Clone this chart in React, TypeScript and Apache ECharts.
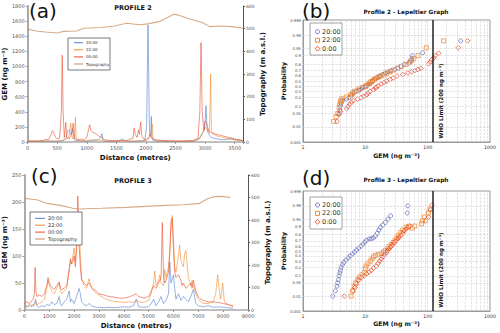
import React, { useEffect, useRef } from "react";
import * as echarts from "echarts";

const FONT = "DejaVu Sans";
const C_BLUE = "#4f7fd0";
const C_ORANGE = "#f28a2e";
const C_RED = "#e94b2e";
const C_TOPO = "#c98d5e";
const S_BLUE = "#5a64b8";
const S_ORANGE = "#f07f22";
const S_RED = "#e8452a";

// ---------- Panel (a): Profile 2 ----------
const blueA = [[0,5],[100,5],[200,8],[300,10],[400,8],[500,10],[600,15],[650,60],[680,150],[700,160],[720,120],[740,100],[760,175],[780,60],[800,20],[900,15],[1000,10],[1100,20],[1200,30],[1240,60],[1254,110],[1270,30],[1300,10],[1400,10],[1500,15],[1550,20],[1600,40],[1620,15],[1700,10],[1800,10],[1900,15],[1980,20],[2010,200],[2025,1000],[2034,1549],[2045,1000],[2055,300],[2065,80],[2080,100],[2090,339],[2100,60],[2120,20],[2200,10],[2400,5],[2600,8],[2800,10],[2900,40],[2950,120],[2980,150],[3000,280],[3015,480],[3030,200],[3050,120],[3080,80],[3100,60],[3200,40],[3300,30],[3400,40],[3450,50],[3500,30],[3600,20],[3640,15]];
const orangeA = [[0,10],[100,10],[200,12],[300,15],[400,15],[500,12],[560,20],[620,30],[660,40],[700,80],[730,250],[745,100],[760,40],[790,50],[808,326],[820,50],[850,20],[900,15],[1000,20],[1100,30],[1200,25],[1300,15],[1400,12],[1500,10],[1600,15],[1700,10],[1800,12],[1900,15],[2000,20],[2050,40],[2080,80],[2107,240],[2120,40],[2200,15],[2400,12],[2600,10],[2800,15],[2900,40],[2950,100],[3000,200],[3040,150],[3070,120],[3085,500],[3093,902],[3105,150],[3150,100],[3200,80],[3300,60],[3400,40],[3500,30],[3600,20],[3640,15]];
const redA = [[0,15],[100,15],[200,15],[280,20],[300,40],[350,30],[400,100],[418,150],[440,130],[470,60],[500,40],[540,50],[570,400],[585,1150],[600,400],[620,60],[646,260],[660,60],[700,40],[750,120],[770,250],[790,60],[850,30],[900,40],[950,30],[1000,60],[1048,229],[1070,150],[1100,130],[1150,110],[1200,80],[1250,60],[1300,30],[1400,20],[1500,15],[1600,20],[1700,25],[1780,50],[1800,185],[1820,100],[1850,60],[1872,160],[1890,100],[1911,268],[1930,80],[1960,40],[2000,30],[2050,60],[2068,100],[2090,60],[2150,30],[2300,20],[2500,15],[2700,15],[2800,20],[2880,50],[2910,400],[2931,1316],[2950,400],[2980,150],[3000,280],[3020,260],[3060,150],[3100,120],[3200,100],[3300,80],[3400,60],[3500,40],[3600,25],[3640,20]];
const topoA = [[0,498],[140,490],[300,485],[500,481],[610,488],[830,490],[950,502],[1250,505],[1470,512],[1670,524],[1890,517],[2030,521],[2220,531],[2390,553],[2470,564],[2530,561],[2700,546],[2950,527],[3080,509],[3280,512],[3450,509],[3640,502]];

// ---------- Panel (c): Profile 3 ----------
const blueC = [[0,8],[100,5],[200,10],[300,6],[400,12],[450,20],[500,8],[600,5],[700,8],[800,6],[900,10],[1000,8],[1100,15],[1200,10],[1300,12],[1400,25],[1450,10],[1500,8],[1600,15],[1700,20],[1800,35],[1850,15],[1900,20],[2000,12],[2100,25],[2200,40],[2250,30],[2300,15],[2400,10],[2500,8],[2600,12],[2700,8],[2800,6],[2900,5],[3000,5],[3200,4],[3400,5],[3600,4],[3800,5],[4000,6],[4200,5],[4400,8],[4500,20],[4600,6],[4800,5],[5000,6],[5100,12],[5200,20],[5300,8],[5400,15],[5500,25],[5600,12],[5700,18],[5800,30],[5850,89],[5900,50],[6000,65],[6050,40],[6100,20],[6200,30],[6300,18],[6400,25],[6500,20],[6600,15],[6700,25],[6800,38],[6900,12],[7000,8],[7200,6],[7400,8],[7600,5],[7800,6],[8000,5],[8200,4],[8400,3]];
const orangeC = [[0,10],[100,8],[200,6],[300,10],[400,8],[450,15],[500,10],[600,12],[700,15],[800,20],[900,40],[950,55],[1000,45],[1100,35],[1200,30],[1300,40],[1400,50],[1450,35],[1500,30],[1600,35],[1700,40],[1800,70],[1850,90],[1900,85],[1950,100],[2000,115],[2050,90],[2100,110],[2150,140],[2200,165],[2250,100],[2300,60],[2400,45],[2500,40],[2600,58],[2700,40],[2800,35],[2900,30],[3000,28],[3200,22],[3400,18],[3600,16],[3800,15],[4000,14],[4200,15],[4400,14],[4500,18],[4600,15],[4800,14],[5000,18],[5100,30],[5200,50],[5250,72],[5300,45],[5400,55],[5450,65],[5500,50],[5600,45],[5650,75],[5700,60],[5800,80],[5850,100],[5900,150],[5950,175],[6000,130],[6050,80],[6100,70],[6200,100],[6250,120],[6300,90],[6400,80],[6450,105],[6500,110],[6550,85],[6600,60],[6700,45],[6750,55],[6800,45],[6900,30],[7000,20],[7100,15],[7200,12],[7400,12],[7600,15],[7700,30],[7780,65],[7850,35],[7900,20],[7980,50],[8050,15],[8200,10],[8400,8]];
const redC = [[0,12],[100,15],[200,12],[300,18],[350,20],[400,30],[430,79],[460,35],[500,25],[600,28],[700,25],[800,30],[900,45],[950,60],[1000,50],[1100,42],[1200,38],[1300,45],[1400,52],[1450,40],[1500,38],[1600,40],[1700,45],[1750,60],[1800,75],[1850,95],[1900,85],[1950,90],[2000,100],[2050,80],[2100,120],[2150,211],[2200,120],[2250,80],[2300,55],[2400,50],[2500,45],[2600,50],[2700,42],[2800,38],[2900,35],[3000,30],[3200,28],[3400,25],[3600,24],[3800,22],[4000,22],[4200,24],[4400,28],[4500,30],[4600,25],[4800,22],[5000,25],[5100,35],[5200,45],[5300,40],[5400,50],[5500,60],[5550,162],[5600,60],[5650,50],[5700,55],[5800,70],[5850,110],[5900,165],[5950,170],[6000,110],[6050,70],[6100,60],[6200,65],[6300,55],[6350,45],[6400,50],[6500,40],[6600,45],[6700,50],[6750,40],[6800,55],[6900,35],[7000,25],[7100,20],[7200,18],[7400,15],[7600,15],[7800,14],[8000,12],[8200,10],[8400,6]];
const topoC = [[0,496],[300,492],[500,490],[900,474],[1500,464],[1950,452],[2200,449],[3100,452],[4100,456],[5500,464],[6400,468],[7050,474],[7350,493],[7650,504],[7950,505],[8300,500]];

// ---------- Panel (b): Lepeltier, profile 2 ([GEM, probability]) ----------
const blueB = [[3.8,0.05],[3.9,0.07],[4.0,0.1],[4.1,0.13],[4.3,0.16],[5.0,0.18],[5.5,0.2],[6.0,0.23],[6.3,0.26],[6.6,0.28],[7.2,0.3],[8.0,0.32],[8.5,0.34],[9.0,0.36],[9.5,0.38],[10.5,0.4],[11,0.42],[12,0.45],[12.5,0.48],[13,0.5],[14,0.53],[15,0.56],[16,0.58],[17,0.6],[19,0.63],[21,0.66],[23,0.68],[26,0.7],[30,0.72],[33,0.74],[37,0.77],[42,0.8],[50,0.82],[53,0.85],[55,0.87],[57,0.9],[83,0.924],[338,0.979]];
const orangeB = [[3.1,0.02],[3.4,0.035],[3.6,0.05],[3.8,0.09],[3.9,0.12],[4.0,0.15],[4.1,0.17],[4.2,0.19],[5.0,0.21],[5.8,0.24],[6.2,0.27],[6.6,0.3],[7.5,0.32],[8.0,0.35],[8.8,0.37],[10,0.39],[10.5,0.42],[11.5,0.45],[12,0.48],[13,0.5],[14,0.53],[15,0.56],[16.5,0.58],[18,0.6],[20,0.62],[22,0.65],[25,0.68],[28,0.71],[33,0.74],[38,0.77],[45,0.8],[52,0.83],[55,0.85],[60,0.87],[70,0.9],[95,0.954],[180,0.979]];
const redB = [[3.5,0.02],[3.8,0.045],[4.0,0.06],[5.0,0.08],[5.3,0.1],[5.6,0.12],[6.0,0.14],[6.4,0.16],[7.5,0.18],[8.5,0.2],[9.5,0.22],[10.5,0.24],[11,0.27],[12,0.3],[13.5,0.33],[14.5,0.36],[15,0.38],[16,0.4],[18,0.44],[20,0.47],[22,0.5],[25,0.53],[28,0.56],[32,0.6],[40,0.63],[48,0.66],[55,0.68],[62,0.7],[70,0.72],[78,0.74],[104,0.81],[110,0.83],[117,0.86],[125,0.88],[132,0.9],[150,0.92],[310,0.954],[437,0.979]];

// ---------- Panel (d): Lepeltier, profile 3 ----------
const blueD = [[3.0,0.01],[3.3,0.02],[3.5,0.035],[3.6,0.05],[3.7,0.07],[3.8,0.1],[3.9,0.13],[4.0,0.16],[4.1,0.2],[4.3,0.24],[4.5,0.28],[4.9,0.32],[5.3,0.36],[5.7,0.4],[6.2,0.44],[6.7,0.48],[7.2,0.52],[7.8,0.56],[8.5,0.6],[9.2,0.64],[9.8,0.68],[10.5,0.71],[11.5,0.73],[12.5,0.74],[13.5,0.75],[14.5,0.78],[15.5,0.82],[16.5,0.86],[17.5,0.89],[19,0.91],[21,0.93],[23,0.95],[25.5,0.965],[47,0.975],[48,0.99]];
const orangeD = [[5.9,0.01],[6.3,0.02],[6.6,0.035],[7.0,0.05],[7.5,0.07],[8.0,0.09],[8.8,0.11],[9.6,0.13],[10.0,0.18],[10.3,0.22],[11,0.26],[12,0.3],[12.8,0.34],[13.5,0.38],[14.5,0.41],[16,0.43],[18,0.45],[19.5,0.48],[21,0.51],[22.5,0.55],[24,0.59],[26,0.63],[28,0.67],[30,0.71],[32,0.75],[34,0.79],[37,0.83],[40,0.86],[45,0.89],[50,0.9],[57,0.88],[62,0.9],[80,0.92],[83,0.94],[88,0.96],[103,0.975],[110,0.985]];
const redD = [[4.6,0.01],[6.3,0.02],[6.8,0.03],[7.2,0.045],[7.8,0.065],[8.5,0.085],[9.6,0.1],[10.5,0.12],[11.5,0.14],[12.5,0.16],[13.5,0.19],[15,0.22],[16,0.26],[17,0.3],[18,0.34],[19,0.38],[20,0.42],[21.5,0.46],[22.6,0.5],[24,0.54],[25.5,0.58],[27,0.62],[29,0.66],[31,0.7],[33,0.73],[35,0.76],[37.5,0.79],[40,0.82],[42,0.85],[45,0.87],[48,0.89],[52,0.9],[92,0.94],[103,0.96],[110,0.983],[117,0.991]];

const probTicks = [0.001, 0.01, 0.05, 0.1, 0.2, 0.3, 0.4, 0.5, 0.6, 0.7, 0.8, 0.9, 0.95, 0.99, 0.999];
const WHO_LIMIT = 120;

// inverse normal CDF (normal-probability scale)
function probit(p: number): number {
  const a = [-3.969683028665376e1, 2.209460984245205e2, -2.759285104469687e2, 1.38357751867269e2, -3.066479806614716e1, 2.506628277459239];
  const b = [-5.447609879822406e1, 1.615858368580409e2, -1.556989798598866e2, 6.680131188771972e1, -1.328068155288572e1];
  const c = [-7.784894002430293e-3, -3.223964580411365e-1, -2.400758277161838, -2.549671010115818, 4.374664141464968, 2.938163982698783];
  const d = [7.784695709041462e-3, 3.224671290700398e-1, 2.445134137142996, 3.754408661907416];
  const plow = 0.02425;
  if (p < plow) {
    const q = Math.sqrt(-2 * Math.log(p));
    return (((((c[0] * q + c[1]) * q + c[2]) * q + c[3]) * q + c[4]) * q + c[5]) / ((((d[0] * q + d[1]) * q + d[2]) * q + d[3]) * q + 1);
  }
  if (p <= 1 - plow) {
    const q = p - 0.5;
    const r = q * q;
    return ((((((a[0] * r + a[1]) * r + a[2]) * r + a[3]) * r + a[4]) * r + a[5]) * q) / (((((b[0] * r + b[1]) * r + b[2]) * r + b[3]) * r + b[4]) * r + 1);
  }
  const q = Math.sqrt(-2 * Math.log(1 - p));
  return -(((((c[0] * q + c[1]) * q + c[2]) * q + c[3]) * q + c[4]) * q + c[5]) / ((((d[0] * q + d[1]) * q + d[2]) * q + d[3]) * q + 1);
}

const ZMAX = probit(0.999);
const probLabel = (v: number) => {
  let best = probTicks[0];
  for (const t of probTicks) if (Math.abs(probit(t) - v) < Math.abs(probit(best) - v)) best = t;
  return String(best);
};
const plain = (v: number) => String(v);

const minorX: number[] = [];
for (const dec of [1, 10, 100]) for (let k = 2; k <= 10; k++) if (dec * k < 1000) minorX.push(dec * k);
const gridMarks = [
  ...minorX.map((x) => ({ xAxis: x })),
  ...probTicks.slice(1, -1).map((p) => ({ yAxis: probit(p) })),
  { xAxis: WHO_LIMIT, lineStyle: { type: "solid", color: "#222", width: 1.5 } },
];

const grayAxis = { onZero: false, lineStyle: { color: "#aaa", width: 1.5 } };
const tickLbl = { fontSize: 5, color: "#555", margin: 3, fontFamily: FONT, formatter: plain };
const nameStyle = (size: number) => ({ fontSize: size, fontWeight: "bold", color: "#111", fontFamily: FONT });

const distAxis = (gridIndex: number, max: number, interval: number) => ({
  type: "value", gridIndex, min: 0, max, interval,
  axisLine: grayAxis, axisTick: { length: 2, lineStyle: { color: "#999" } },
  axisLabel: { ...tickLbl, formatter: (v: number) => (v % interval === 0 ? String(v) : "") },
  splitLine: { show: false },
  name: "Distance (metres)", nameLocation: "middle", nameGap: 12, nameTextStyle: nameStyle(7),
});
const gemAxis = (gridIndex: number, gap: number) => ({
  type: "log", logBase: 10, gridIndex, min: 1, max: 1000,
  axisLine: { onZero: false, lineStyle: { color: "#999", width: 1 } }, axisTick: { show: false },
  axisLabel: { fontSize: 4.8, color: "#333", margin: 3, fontFamily: FONT, formatter: plain },
  splitLine: { show: false },
  name: "GEM (ng m⁻³)", nameLocation: "middle", nameGap: gap, nameTextStyle: nameStyle(6.2),
});
const leftAxis = (gridIndex: number, max: number, interval: number, gap: number) => ({
  type: "value", gridIndex, position: "left", min: 0, max, interval,
  axisLine: { show: true, onZero: false, lineStyle: { color: "#aaa", width: 2 } },
  axisTick: { show: true, length: 2, lineStyle: { color: "#999" } },
  axisLabel: tickLbl, splitLine: { show: false },
  name: "GEM (ng m⁻³)", nameLocation: "middle", nameGap: gap, nameRotate: 90, nameTextStyle: nameStyle(7),
});
const topoAxis = (gridIndex: number) => ({
  type: "value", gridIndex, position: "right", min: 0, max: 600, interval: 100,
  axisLine: { show: true, onZero: false, lineStyle: { color: "#555", width: 1 } },
  axisTick: { show: true, length: 2, lineStyle: { color: "#555" } },
  axisLabel: { ...tickLbl, fontSize: 4.5 }, splitLine: { show: false },
  name: "Topography (m a.s.l.)", nameLocation: "middle", nameGap: 16, nameRotate: 90, nameTextStyle: nameStyle(7),
});
const probAxis = (gridIndex: number) => ({
  type: "value", gridIndex, min: -ZMAX, max: ZMAX,
  axisLine: { show: true, onZero: false, lineStyle: { color: "#999", width: 1 } },
  axisTick: { show: false, customValues: probTicks.map(probit) },
  axisLabel: { fontSize: 3.8, color: "#444", margin: 2, fontFamily: FONT, customValues: probTicks.map(probit), formatter: probLabel },
  splitLine: { show: false },
  name: "Probability", nameLocation: "middle", nameGap: 17, nameRotate: 90, nameTextStyle: nameStyle(6.2),
});

const lineS = (name: string, data: number[][], color: string, xi: number, yi: number, w = 0.8) => ({
  name, type: "line", data, xAxisIndex: xi, yAxisIndex: yi, symbol: "none", showSymbol: false,
  itemStyle: { color }, lineStyle: { color, width: w, opacity: 0.75 }, silent: true,
});
const scatS = (name: string, data: number[][], color: string, symbol: string, xi: number, yi: number, size: number, marks?: any) => ({
  name, type: "scatter", data: data.map(([g, p]) => [g, probit(p)]), xAxisIndex: xi, yAxisIndex: yi,
  symbol, symbolSize: size, itemStyle: { color: "rgba(255,255,255,0)", borderColor: color, borderWidth: 0.9 },
  ...(marks ? { markLine: marks } : {}),
});
const markCfg = () => ({
  silent: true, symbol: "none", label: { show: false }, animation: false,
  lineStyle: { type: "dashed", color: "#cfcfcf", width: 0.6 }, data: gridMarks,
});

const txt = (text: string, x: number, y: number, size: number, opts: any = {}) => ({
  type: "text", x, y, z: 100, rotation: opts.rotation || 0,
  style: {
    text, fontSize: size, fontFamily: FONT, fontWeight: opts.bold ? "bold" : "normal", fill: opts.fill || "#111",
    align: opts.align || "left", verticalAlign: opts.valign || "top",
    textAlign: opts.align || "left", textVerticalAlign: opts.valign || "top",
  },
});

const lineLegend = (x: number, y: number, w: number, h: number, y0: number, gap: number, lx: number, ll: number, fs: number) => {
  const entries = [["20:00", C_BLUE], ["22:00", C_ORANGE], ["00:00", C_RED], ["Topography", C_TOPO]];
  const els: any[] = [{ type: "rect", z: 99, shape: { x, y, width: w, height: h }, style: { fill: "#fff", stroke: "#555", lineWidth: 0.8 } }];
  entries.forEach(([n, c], i) => {
    const yy = y0 + i * gap;
    els.push({ type: "line", z: 100, shape: { x1: lx, y1: yy, x2: lx + ll, y2: yy }, style: { stroke: c, lineWidth: 1 } });
    els.push(txt(n, lx + ll + 3, yy, fs, { valign: "middle", fill: "#333" }));
  });
  return els;
};
const scatLegend = (x: number, y: number, y0: number, gap: number) => {
  const els: any[] = [{ type: "rect", z: 99, shape: { x, y, width: 32, height: 32 }, style: { fill: "#fff", stroke: "#888", lineWidth: 0.8 } }];
  const mx = x + 7.5;
  const st = (c: string) => ({ fill: "none", stroke: c, lineWidth: 0.9 });
  els.push({ type: "circle", z: 100, shape: { cx: mx, cy: y0, r: 2 }, style: st(S_BLUE) });
  els.push({ type: "rect", z: 100, shape: { x: mx - 2, y: y0 + gap - 2, width: 4, height: 4 }, style: st(S_ORANGE) });
  const yd = y0 + 2 * gap;
  els.push({ type: "polygon", z: 100, shape: { points: [[mx, yd - 2.4], [mx + 2.4, yd], [mx, yd + 2.4], [mx - 2.4, yd]] }, style: st(S_RED) });
  ["20:00", "22:00", "0:00"].forEach((n, i) => els.push(txt(n, x + 12, y0 + i * gap, 6.5, { valign: "middle", fill: "#333" })));
  return els;
};

const option: any = {
  animation: false,
  textStyle: { fontFamily: FONT },
  grid: [
    { left: 25, top: 6, width: 218, height: 136 },
    { left: 303, top: 20, width: 187, height: 122, show: true, borderColor: "#999", borderWidth: 1 },
    { left: 23, top: 175, width: 225, height: 135 },
    { left: 303, top: 191, width: 187, height: 120, show: true, borderColor: "#999", borderWidth: 1 },
  ],
  xAxis: [distAxis(0, 3640, 500), gemAxis(1, 10), distAxis(2, 9000, 1000), gemAxis(3, 9)],
  yAxis: [leftAxis(0, 1800, 200, 13), topoAxis(0), probAxis(1), leftAxis(2, 250, 50, 11), topoAxis(2), probAxis(3)],
  series: [
    lineS("20:00", blueA, C_BLUE, 0, 0),
    lineS("22:00", orangeA, C_ORANGE, 0, 0),
    lineS("00:00", redA, C_RED, 0, 0),
    lineS("Topography", topoA, C_TOPO, 0, 1, 1.1),
    scatS("20:00", blueB, S_BLUE, "circle", 1, 2, 4, markCfg()),
    scatS("22:00", orangeB, S_ORANGE, "rect", 1, 2, 4),
    scatS("0:00", redB, S_RED, "diamond", 1, 2, 4.8),
    lineS("20:00", blueC, C_BLUE, 2, 3),
    lineS("22:00", orangeC, C_ORANGE, 2, 3),
    lineS("00:00", redC, C_RED, 2, 3),
    lineS("Topography", topoC, C_TOPO, 2, 4, 1.1),
    scatS("20:00", blueD, S_BLUE, "circle", 3, 5, 4, markCfg()),
    scatS("22:00", orangeD, S_ORANGE, "rect", 3, 5, 4),
    scatS("0:00", redD, S_RED, "diamond", 3, 5, 4.8),
  ],
  graphic: [
    txt("(a)", 29, 1, 20),
    txt("PROFILE 2", 133, 8, 6.5, { bold: true, align: "center", valign: "middle" }),
    txt("(b)", 302, 1, 20),
    txt("Profile 2 - Lepeltier Graph", 406, 12, 5.8, { bold: true, align: "center", valign: "middle" }),
    txt("(c)", 31, 166, 20),
    txt("PROFILE 3", 133, 181, 6.5, { bold: true, align: "center", valign: "middle" }),
    txt("(d)", 302, 168, 20),
    txt("Profile 3 - Lepeltier Graph", 406, 180, 5.8, { bold: true, align: "center", valign: "middle" }),
    txt("WHO Limit (200 ng m⁻³)", 441, 101, 5.6, { bold: true, align: "center", valign: "middle", rotation: Math.PI / 2 }),
    txt("WHO Limit (200 ng m⁻³)", 441, 270, 5.6, { bold: true, align: "center", valign: "middle", rotation: Math.PI / 2 }),
    ...lineLegend(68, 38, 42, 32, 42.7, 7.1, 74, 9, 4),
    ...lineLegend(30, 212, 52, 33, 218.3, 6.9, 35, 10, 5),
    ...scatLegend(310, 23, 31.7, 8.5),
    ...scatLegend(310, 197, 205, 8.4),
  ],
};

export default function App() {
  const ref = useRef<HTMLDivElement>(null);
  useEffect(() => {
    if (!ref.current) return;
    const chart = echarts.init(ref.current, null, { renderer: "svg" });
    chart.setOption(option);
    return () => chart.dispose();
  }, []);
  return <div ref={ref} style={{ position: "absolute", left: 0, top: 0, width: 500, height: 333, background: "#fff" }} />;
}
